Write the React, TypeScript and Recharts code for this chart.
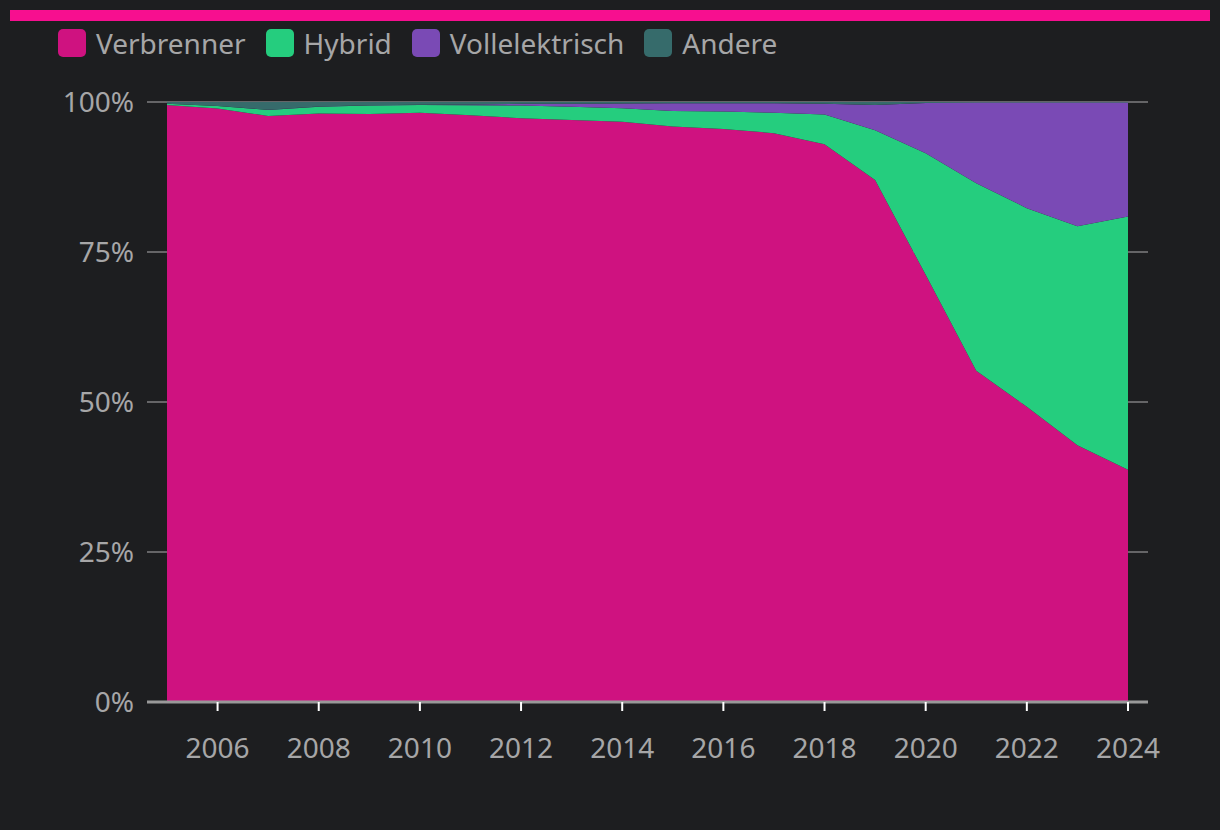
import React from "react";
import { AreaChart, Area, XAxis, YAxis, CartesianGrid } from "recharts";

const years = [2005, 2006, 2007, 2008, 2009, 2010, 2011, 2012, 2013, 2014, 2015, 2016, 2017, 2018, 2019, 2020, 2021, 2022, 2023, 2024];
const verbrenner = [99.5, 98.95, 97.7, 98.1, 98.0, 98.2, 97.8, 97.3, 97.0, 96.7, 95.9, 95.5, 94.8, 92.95, 87.0, 71.2, 55.2, 49.2, 42.8, 38.7];
const hybrid = [0.2, 0.4, 1.0, 1.1, 1.4, 1.3, 1.65, 2.1, 2.2, 2.25, 2.6, 2.9, 3.4, 4.95, 8.3, 20.25, 31.25, 33.1, 36.5, 42.2];
const vollelektrisch = [0, 0.02, 0.03, 0.05, 0.05, 0.05, 0.15, 0.3, 0.5, 0.8, 1.3, 1.4, 1.6, 1.8, 4.2, 8.4, 13.45, 17.6, 20.6, 19.0];
const andere = [0.3, 0.65, 1.3, 0.75, 0.55, 0.45, 0.4, 0.3, 0.3, 0.25, 0.2, 0.2, 0.2, 0.3, 0.5, 0.15, 0.1, 0.1, 0.1, 0.1];
const xTicks = [2006, 2008, 2010, 2012, 2014, 2016, 2018, 2020, 2022, 2024];
const yTicks = [0, 0.25, 0.5, 0.75, 1];

const series = [
  { key: "verbrenner", name: "Verbrenner", color: "#cf1280" },
  { key: "hybrid", name: "Hybrid", color: "#25cd7e" },
  { key: "vollelektrisch", name: "Vollelektrisch", color: "#7a4ab5" },
  { key: "andere", name: "Andere", color: "#366b6b" },
];

const data = years.map((year, i) => ({
  year,
  verbrenner: verbrenner[i],
  hybrid: hybrid[i],
  vollelektrisch: vollelektrisch[i],
  andere: andere[i],
}));

const font = "'Noto Sans', sans-serif";
const textColor = "#a6a6a7";

export default function App() {
  return (
    <div style={{ position: "fixed", left: 0, top: 0, width: 1220, height: 830, background: "#1d1e20", fontFamily: font }}>
      <div style={{ position: "absolute", left: 10, top: 10, width: 1200, height: 11, background: "#f70f8f" }} />
      <div style={{ position: "absolute", left: 58, top: 25, display: "flex", alignItems: "center" }}>
        {series.map((s) => (
          <div key={s.key} style={{ display: "flex", alignItems: "center", marginRight: 20 }}>
            <div style={{ width: 28, height: 28, borderRadius: 5, background: s.color, marginRight: 10 }} />
            <span style={{ fontSize: 28, color: textColor, lineHeight: "36px" }}>{s.name}</span>
          </div>
        ))}
      </div>
      <div style={{ position: "absolute", left: 0, top: 0 }}>
        <AreaChart width={1220} height={830} data={data} stackOffset="expand" margin={{ top: 102, right: 72, left: 0, bottom: 0 }}>
          <CartesianGrid horizontal vertical={false} stroke="#5a5a5c" strokeWidth={2} />
          {series.map((s) => (
            <Area
              key={s.key}
              type="linear"
              dataKey={s.key}
              name={s.name}
              stackId="1"
              fill={s.color}
              fillOpacity={1}
              stroke="none"
              isAnimationActive={false}
            />
          ))}
          <CartesianGrid horizontal vertical={false} stroke="rgba(255,255,255,0.07)" strokeWidth={2} />
          <XAxis
            dataKey="year"
            type="number"
            domain={[2005, 2024]}
            ticks={xTicks}
            padding={{ left: 20, right: 20 }}
            height={128}
            axisLine={{ stroke: "#999999", strokeWidth: 3 }}
            tickLine={{ stroke: "#ffffff", strokeWidth: 2 }}
            tickSize={9}
            tickMargin={27}
            tick={{ fill: textColor, fontSize: 28, fontFamily: font }}
          />
          <YAxis
            type="number"
            domain={[0, 1]}
            ticks={yTicks}
            width={147}
            axisLine={false}
            tickLine={false}
            tickSize={0}
            tickMargin={13}
            tickFormatter={(v: number) => `${Math.round(v * 100)}%`}
            tick={{ fill: textColor, fontSize: 28, fontFamily: font }}
          />
        </AreaChart>
      </div>
    </div>
  );
}
